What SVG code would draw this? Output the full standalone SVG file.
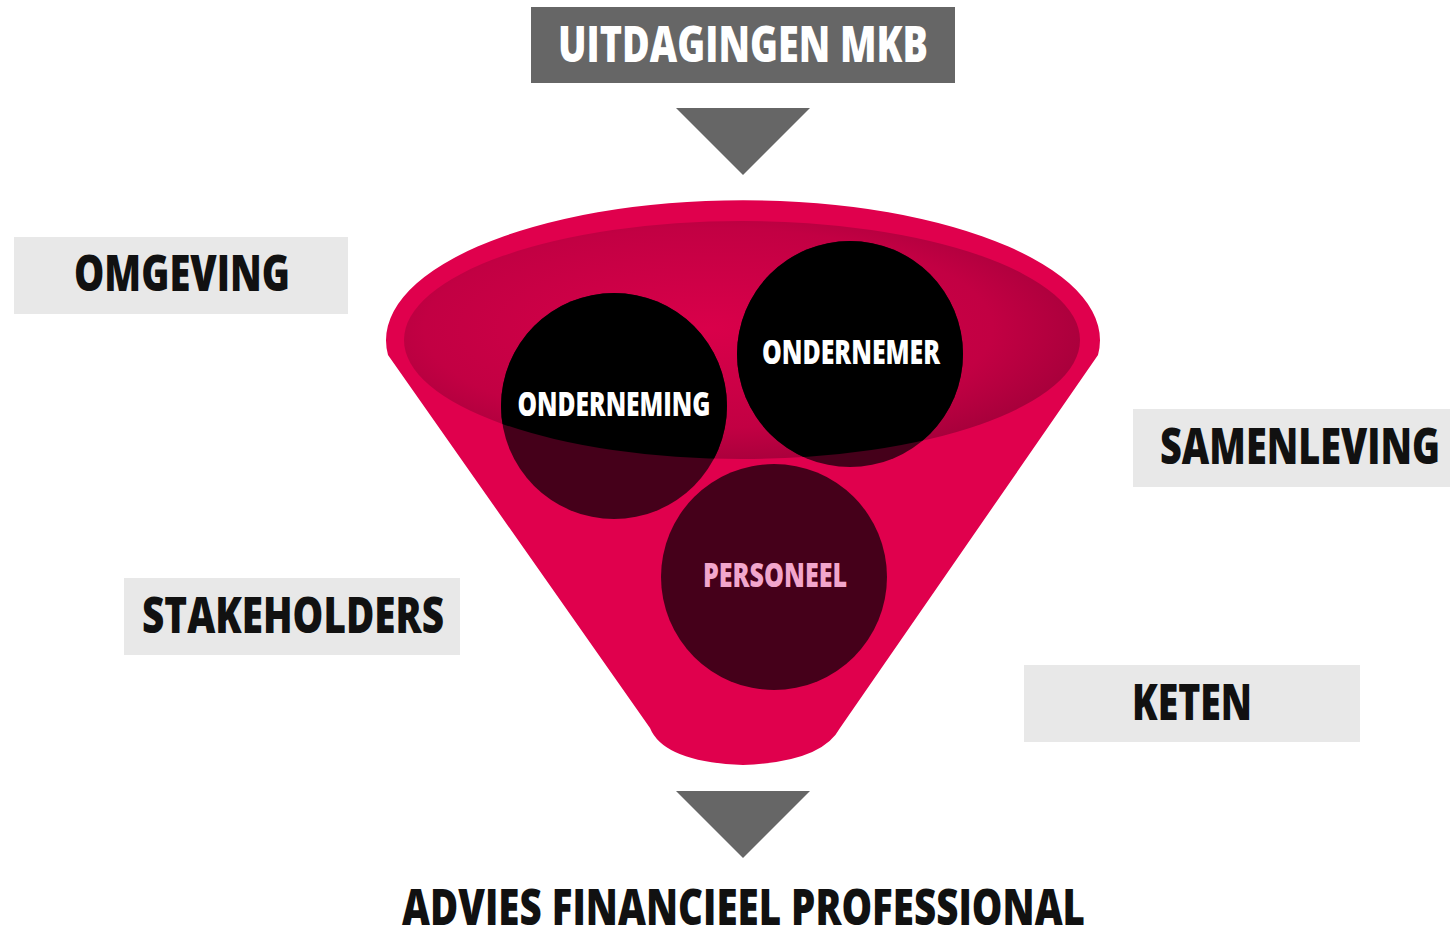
<svg xmlns="http://www.w3.org/2000/svg" width="1450" height="929" viewBox="0 0 1450 929">
<style>
.lbl{font-family:"Open Sans","Liberation Sans",sans-serif;font-weight:800;font-size:50px;fill:#111;}
.box{fill:#e8e8e8;}
.ctext{font-family:"Open Sans","Liberation Sans",sans-serif;font-weight:800;font-size:33px;text-anchor:middle;}
.tri{fill:#666;}
</style>
<defs>
<radialGradient id="inner" cx="0.45" cy="0.45" r="0.6">
<stop offset="0" stop-color="#d9004a"/>
<stop offset="0.7" stop-color="#c20043"/>
<stop offset="1" stop-color="#a3003a"/>
</radialGradient>
<clipPath id="innerClip"><ellipse cx="742" cy="340" rx="338" ry="119"/></clipPath>
</defs>
<g id="top-node">
<rect x="531" y="7" width="424" height="76" fill="#666"/>
<text x="558" y="62" class="lbl" style="fill:#fff" textLength="370" lengthAdjust="spacingAndGlyphs">UITDAGINGEN MKB</text>
</g>
<g id="funnel">
<path d="M388,355 L650,728 Q664,762 743,765 Q822,762 840,728 L1098,355 A357 140 0 1 0 388,355 Z" fill="#e0004d"/>
<ellipse cx="742" cy="340" rx="338" ry="119" fill="url(#inner)"/>
</g>
<g id="circle-onderneming">
<circle cx="614" cy="406" r="113" fill="#45001a"/>
<circle cx="614" cy="406" r="113" fill="#000" clip-path="url(#innerClip)"/>
<text x="614" y="416" class="ctext" fill="#fff" textLength="193" lengthAdjust="spacingAndGlyphs">ONDERNEMING</text>
</g>
<g id="circle-ondernemer">
<circle cx="850" cy="354" r="113" fill="#45001a"/>
<circle cx="850" cy="354" r="113" fill="#000" clip-path="url(#innerClip)"/>
<text x="851" y="364" class="ctext" fill="#fff" textLength="178" lengthAdjust="spacingAndGlyphs">ONDERNEMER</text>
</g>
<g id="circle-personeel">
<circle cx="774" cy="577" r="113" fill="#45001a"/>
<text x="775" y="587" class="ctext" fill="#f2a6cc" textLength="144" lengthAdjust="spacingAndGlyphs">PERSONEEL</text>
</g>
<g id="omgeving">
<rect class="box" x="14" y="237" width="334" height="77"/>
<text class="lbl" x="74" y="291" textLength="216" lengthAdjust="spacingAndGlyphs">OMGEVING</text>
</g>
<g id="samenleving">
<rect class="box" x="1133" y="409" width="317" height="78"/>
<text class="lbl" x="1160" y="464" textLength="280" lengthAdjust="spacingAndGlyphs">SAMENLEVING</text>
</g>
<g id="stakeholders">
<rect class="box" x="124" y="578" width="336" height="77"/>
<text class="lbl" x="142" y="633" textLength="302" lengthAdjust="spacingAndGlyphs">STAKEHOLDERS</text>
</g>
<g id="keten">
<rect class="box" x="1024" y="665" width="336" height="77"/>
<text class="lbl" x="1132" y="720" textLength="120" lengthAdjust="spacingAndGlyphs">KETEN</text>
</g>
<g id="connectors">
<polygon class="tri" points="676,108 810,108 743,175"/>
<polygon class="tri" points="676,791 810,791 743,858"/>
</g>
<g id="bottom-node">
<text class="lbl" x="402" y="925" textLength="683" lengthAdjust="spacingAndGlyphs">ADVIES FINANCIEEL PROFESSIONAL</text>
</g>
</svg>
